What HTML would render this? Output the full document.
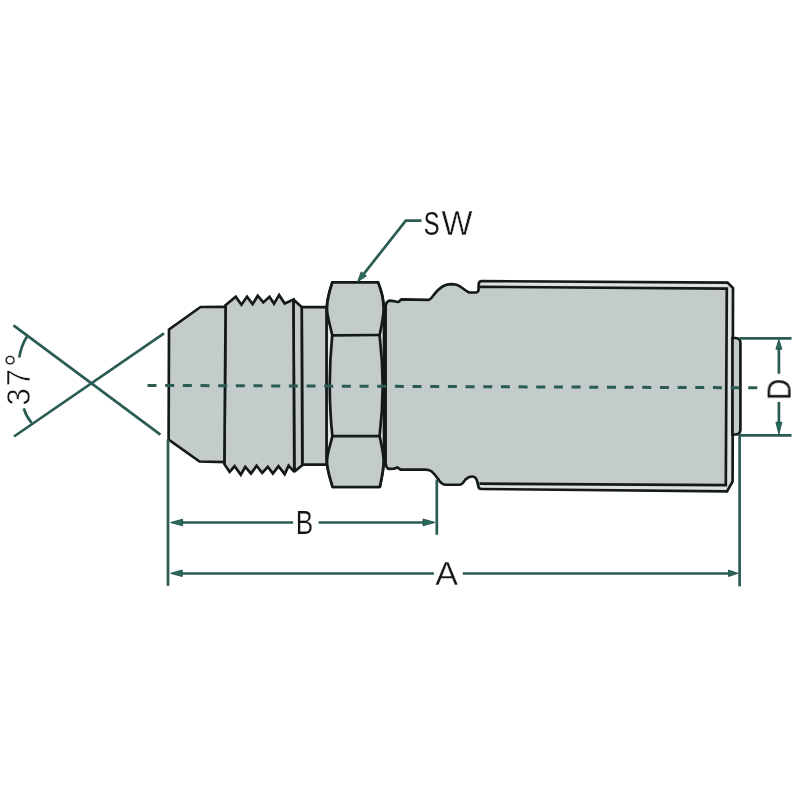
<!DOCTYPE html>
<html><head><meta charset="utf-8"><title>Fitting</title>
<style>
html,body{margin:0;padding:0;background:#fff;width:800px;height:800px;overflow:hidden}
svg{display:block}
text{font-family:"Liberation Sans",sans-serif;fill:#141616}
</style></head><body>
<svg width="800" height="800" viewBox="0 0 800 800">
<rect width="800" height="800" fill="#fff"/>

<g fill="#c3cccb" stroke="#141a19" stroke-width="2.7" stroke-linejoin="miter" stroke-miterlimit="2">
<!-- body + sleeve silhouette -->
<path d="M385.6,462 L385.6,306 Q386.5,300.8 390,300.6 C393,300.6 395,301.8 398,302 C399.5,302 400,299.8 401.8,299.4 L428.75,299.8 C430,299.5 431,298.5 432,297.2 C435,293 439,288 444.5,285.5 C447,284.5 450,284.2 452.4,284.2 C455.5,284.3 458,285 460,286.3 C463,288.3 466.5,291.5 469.4,292.5 L476,292.5 Q478.3,292.2 478.5,290 L478.8,283.5 Q479.2,281.1 481.8,281.1 L727.5,282.6 L733,288 L732.6,481.5 L727,491.3 L482,489 Q479.5,489 478.8,487.8 C478.2,486 477.8,484 477.2,481.5 C476.5,478.5 475,476.5 472.2,476.5 C469.5,476.5 467.5,477.5 465.5,479.5 C463.5,482 462,484.75 459.8,484.75 L446,484.75 C443,484.75 441,483 439.5,481 C437,477.5 434,473 431,471 C429.5,470 428,469.6 425,469.6 L400.5,469.6 L397.5,467.5 L394,468.6 L389,468.8 Q385.8,468.5 385.6,462 Z" stroke="none"/>
<path d="M479.8,281 L728,282.5 L733,287.8 L732.7,481.4 L727.2,491.5 L479.8,489.5 L479.8,483.7 L725.8,485.2 L726.8,288.6 L479.8,286.8 Z" fill="#dde1e0" stroke="none"/>
<path d="M480,286.8 L726.8,288.6 L725.8,485.2 L479.5,483.7" fill="none"/>
<path d="M385.6,462 L385.6,306 Q386.5,300.8 390,300.6 C393,300.6 395,301.8 398,302 C399.5,302 400,299.8 401.8,299.4 L428.75,299.8 C430,299.5 431,298.5 432,297.2 C435,293 439,288 444.5,285.5 C447,284.5 450,284.2 452.4,284.2 C455.5,284.3 458,285 460,286.3 C463,288.3 466.5,291.5 469.4,292.5 L476,292.5 Q478.3,292.2 478.5,290 L478.8,283.5 Q479.2,281.1 481.8,281.1 L727.5,282.6 L733,288 L732.6,481.5 L727,491.3 L482,489 Q479.5,489 478.8,487.8 C478.2,486 477.8,484 477.2,481.5 C476.5,478.5 475,476.5 472.2,476.5 C469.5,476.5 467.5,477.5 465.5,479.5 C463.5,482 462,484.75 459.8,484.75 L446,484.75 C443,484.75 441,483 439.5,481 C437,477.5 434,473 431,471 C429.5,470 428,469.6 425,469.6 L400.5,469.6 L397.5,467.5 L394,468.6 L389,468.8 Q385.8,468.5 385.6,462 Z" fill="none"/>
<!-- end cap -->
<path d="M732.5,338 L735.5,338 Q740.4,338 740.4,343 L740.4,429.5 Q740.4,434.5 735.5,434.5 L732.5,434.5 Z"/>
<!-- undercut -->
<path d="M301.7,307.1 L327,307.1 L327,464.7 L302.3,464.7 Z"/>
<!-- neck -->
<path d="M293.4,299.6 L301.7,307 L302.3,465.2 L294.3,471.6 Z"/>
<!-- thread -->
<path d="M225.5,305.2 L235.75,296.8 L241.4,304.7 L247,296.8 L252.6,304.1 L257.7,295.7 L263.3,302.4 L269.5,296.8 L274,303.6 L279.1,295.1 L284.7,303.6 L293.4,299.6 L294.3,471.9 L288.6,465.7 L284.7,474.1 L278.5,466.25 L272.9,473.6 L267.8,466.8 L262.2,473 L256.6,465.7 L251,473.6 L245.3,466.8 L240.8,474.7 L234.6,466.25 L229.6,471.9 L224.4,464.2 Z"/>
<!-- flare -->
<path d="M169,329.5 L200.5,307 L225.6,306.8 L224.4,462 L199.5,461.5 L168.6,439.5 Z"/>
<!-- hex nut outer -->
<path stroke-linejoin="round" d="M332.4,282.3 L378,282.3 C381.5,291 383.9,300 384,310 L384,459 C383.9,469 381.5,478 379.8,487 L332.6,487 C330,478 326.8,469 326.6,459 L326.6,310 C326.8,300 329.5,291 332.4,282.3 Z" fill="#e3e6e5"/>
<path stroke-linejoin="round" d="M332.4,282.3 L378,282.3 C381.5,291 383.6,300 383.6,308.5 C383.6,317 381.5,326 379.6,335.2 C381.5,352 382.6,370 382.7,385.5 C382.6,401 381.5,420 379.6,436.1 C381.5,445 383.6,453 383.6,461.5 C383.6,470 381.5,479 379.8,487 L332.6,487 C330.5,479 327,470 327,461.5 C327,453 330.5,445 332.4,436.1 C330.6,420 329.8,401 329.7,385.5 C329.8,370 330.6,352 332.2,335.2 C330.5,326 327,317 327,308.5 C327,300 329.5,291 332.4,282.3 Z"/>
</g>
<!-- hex inner lines -->
<g fill="none" stroke="#141a19" stroke-width="2.7">
<path d="M331.6,335.3 L379.4,335"/>
<path d="M332.4,436.1 L379.4,436.1"/>
</g>

<!-- dimension graphics -->
<g stroke="#2a5c53" fill="none" stroke-width="2.7">
<!-- centerline -->
<path d="M147.5,385.4 L758,387.8" stroke-width="3" stroke-dasharray="9 8.67"/>
<!-- 37 degree lines -->
<path d="M13.5,325.3 L160.4,434.6"/>
<path d="M14,436.5 L164,333.3"/>
<!-- arcs -->
<path d="M27,336.5 Q21,346 19.3,357.5"/>
<path d="M23.8,408.3 Q26,416 31.5,422.8"/>
<!-- extension lines -->
<path d="M168,439.5 L168,585.8"/>
<path d="M739.6,434.4 L739.6,586.3"/>
<path d="M436.8,479.6 L436.8,534.8"/>
<path d="M739.5,338.3 L791.5,338.3"/>
<path d="M739.5,435.3 L791.5,435.3"/>
<!-- B line -->
<path d="M180,522.5 L293.1,522.5 M318.6,522.5 L424,522.5"/>
<!-- A line -->
<path d="M180,573.5 L433.9,573.5 M462.8,573.5 L728,573.5"/>
<!-- D line -->
<path d="M778.9,348 L778.9,373.7 M778.9,402 L778.9,423"/>
<!-- SW leader -->
<path d="M421.5,220.6 L405.8,220.6 L364,273.6"/>
</g>
<g fill="#2a6a59" stroke="#1f5046" stroke-width="0.9" stroke-linejoin="round">
<path d="M170.6,522.5 L182.6,519.2 L182.6,525.8 Z"/>
<path d="M435,522.4 L423,519 L423,525.8 Z"/>
<path d="M170.6,573.3 L182.2,570 L182.2,576.6 Z"/>
<path d="M738,573.3 L728.5,570.1 L728.5,576.5 Z"/>
<path d="M778.9,339.6 L775.9,349.2 L781.9,349.2 Z"/>
<path d="M778.9,434.2 L775.9,422.2 L781.9,422.2 Z"/>
<path d="M357.5,281.8 L361.2,271.9 L366.4,275.9 Z"/>
</g>

<!-- labels -->
<g opacity="0.999">
<text transform="translate(423.727,234.868) scale(0.7159,1.0315)" font-size="33">S</text>
<text transform="translate(441.406,235.000) scale(0.9955,1.0395)" font-size="33" stroke="#fff" stroke-width="0.393">W</text>
<text transform="translate(295.658,534.350) scale(0.7914,1.0241)" font-size="33" stroke="#fff" stroke-width="0.220">B</text>
<text transform="translate(435.333,584.800) scale(1.0374,1.0307)" font-size="33" stroke="#fff" stroke-width="0.387">A</text>
<text transform="translate(790.800,400.238) rotate(-90) scale(0.9005,1.0064)" font-size="33" stroke="#fff" stroke-width="0.105">D</text>
<text transform="translate(29.543,405.435) rotate(-90) scale(0.9427,1.0301)" font-size="33" stroke="#fff" stroke-width="0.507">3</text>
<text transform="translate(29.550,386.329) rotate(-90) scale(0.9332,1.0307)" font-size="33" stroke="#fff" stroke-width="0.509">7</text>
<text transform="translate(29.903,366.727) rotate(-90) scale(1.0055,1.0413)" font-size="33" stroke="#fff" stroke-width="0.293">°</text>
</g>
</svg>
</body></html>
